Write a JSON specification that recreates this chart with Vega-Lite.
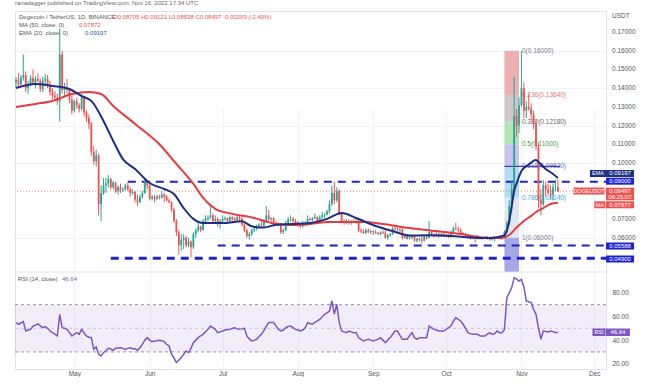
{
"$schema":"https://vega.github.io/schema/vega-lite/v6.json",
"width":591,"height":358,
"padding":{"left":12,"top":0,"right":0,"bottom":0},
"background":"white",
"config":{"font":"Liberation Sans","view":{"stroke":"#e0e3eb"}},
"title":{"text":"ranadagger published on TradingView.com, Nov 16, 2022 17:34 UTC","anchor":"start","fontSize":6,"fontWeight":"normal","color":"#666666","offset":5,"frame":"group"},
"datasets":{
"candles":[
{"d":"2022-04-07","o":0.143,"h":0.146,"l":0.14,"c":0.1445,"r":54.8},
{"d":"2022-04-08","o":0.1445,"h":0.148,"l":0.141,"c":0.142,"r":53.4},
{"d":"2022-04-09","o":0.142,"h":0.147,"l":0.1415,"c":0.1455,"r":54.5},
{"d":"2022-04-10","o":0.1455,"h":0.158,"l":0.144,"c":0.147,"r":55.6},
{"d":"2022-04-11","o":0.147,"h":0.149,"l":0.138,"c":0.14,"r":47.7},
{"d":"2022-04-12","o":0.14,"h":0.144,"l":0.137,"c":0.1425,"r":48.5},
{"d":"2022-04-13","o":0.1425,"h":0.147,"l":0.141,"c":0.1455,"r":49.1},
{"d":"2022-04-14","o":0.1455,"h":0.15,"l":0.142,"c":0.143,"r":51.9},
{"d":"2022-04-15","o":0.143,"h":0.1465,"l":0.14,"c":0.145,"r":52.5},
{"d":"2022-04-16","o":0.145,"h":0.148,"l":0.143,"c":0.144,"r":53.9},
{"d":"2022-04-17","o":0.144,"h":0.145,"l":0.138,"c":0.1395,"r":52},
{"d":"2022-04-18","o":0.1395,"h":0.146,"l":0.138,"c":0.144,"r":50.5},
{"d":"2022-04-19","o":0.144,"h":0.1475,"l":0.142,"c":0.145,"r":51.5},
{"d":"2022-04-20","o":0.145,"h":0.147,"l":0.14,"c":0.1415,"r":50},
{"d":"2022-04-21","o":0.1415,"h":0.144,"l":0.136,"c":0.138,"r":47.7},
{"d":"2022-04-22","o":0.138,"h":0.14,"l":0.134,"c":0.136,"r":46.3},
{"d":"2022-04-23","o":0.136,"h":0.1385,"l":0.134,"c":0.135,"r":45},
{"d":"2022-04-24","o":0.135,"h":0.137,"l":0.131,"c":0.133,"r":43.5},
{"d":"2022-04-25","o":0.133,"h":0.172,"l":0.122,"c":0.158,"r":61.8},
{"d":"2022-04-26","o":0.158,"h":0.16,"l":0.137,"c":0.139,"r":50.5},
{"d":"2022-04-27","o":0.139,"h":0.143,"l":0.136,"c":0.14,"r":50},
{"d":"2022-04-28","o":0.14,"h":0.145,"l":0.137,"c":0.139,"r":49.1},
{"d":"2022-04-29","o":0.139,"h":0.14,"l":0.132,"c":0.134,"r":46.3},
{"d":"2022-04-30","o":0.134,"h":0.136,"l":0.126,"c":0.128,"r":43.5},
{"d":"2022-05-01","o":0.128,"h":0.134,"l":0.127,"c":0.133,"r":45},
{"d":"2022-05-02","o":0.133,"h":0.135,"l":0.129,"c":0.131,"r":46.3},
{"d":"2022-05-03","o":0.131,"h":0.132,"l":0.127,"c":0.129,"r":44.9},
{"d":"2022-05-04","o":0.129,"h":0.137,"l":0.128,"c":0.135,"r":49.1},
{"d":"2022-05-05","o":0.135,"h":0.136,"l":0.125,"c":0.127,"r":46},
{"d":"2022-05-06","o":0.127,"h":0.128,"l":0.122,"c":0.124,"r":43.5},
{"d":"2022-05-07","o":0.124,"h":0.126,"l":0.118,"c":0.121,"r":42.5},
{"d":"2022-05-08","o":0.121,"h":0.122,"l":0.104,"c":0.106,"r":42.1},
{"d":"2022-05-09","o":0.106,"h":0.109,"l":0.099,"c":0.101,"r":32.2},
{"d":"2022-05-10","o":0.101,"h":0.107,"l":0.098,"c":0.104,"r":34.2},
{"d":"2022-05-11","o":0.104,"h":0.105,"l":0.072,"c":0.078,"r":28},
{"d":"2022-05-12","o":0.078,"h":0.088,"l":0.069,"c":0.084,"r":26.6},
{"d":"2022-05-13","o":0.084,"h":0.092,"l":0.083,"c":0.088,"r":29.4},
{"d":"2022-05-14","o":0.088,"h":0.092,"l":0.084,"c":0.089,"r":31},
{"d":"2022-05-15","o":0.089,"h":0.0935,"l":0.087,"c":0.0915,"r":33.1},
{"d":"2022-05-16","o":0.0915,"h":0.092,"l":0.086,"c":0.087,"r":32.5},
{"d":"2022-05-17","o":0.087,"h":0.0905,"l":0.086,"c":0.0895,"r":31.4},
{"d":"2022-05-18","o":0.0895,"h":0.09,"l":0.084,"c":0.085,"r":33.1},
{"d":"2022-05-19","o":0.085,"h":0.088,"l":0.083,"c":0.087,"r":33.4},
{"d":"2022-05-20","o":0.087,"h":0.089,"l":0.084,"c":0.0855,"r":33.6},
{"d":"2022-05-21","o":0.0855,"h":0.087,"l":0.0845,"c":0.086,"r":33},
{"d":"2022-05-22","o":0.086,"h":0.089,"l":0.0855,"c":0.088,"r":32.2},
{"d":"2022-05-23","o":0.088,"h":0.0895,"l":0.085,"c":0.086,"r":33},
{"d":"2022-05-24","o":0.086,"h":0.087,"l":0.082,"c":0.084,"r":33.6},
{"d":"2022-05-25","o":0.084,"h":0.086,"l":0.083,"c":0.0845,"r":32.8},
{"d":"2022-05-26","o":0.0845,"h":0.085,"l":0.079,"c":0.0805,"r":32.8},
{"d":"2022-05-27","o":0.0805,"h":0.083,"l":0.077,"c":0.079,"r":31.4},
{"d":"2022-05-28","o":0.079,"h":0.083,"l":0.0785,"c":0.082,"r":33.5},
{"d":"2022-05-29","o":0.082,"h":0.085,"l":0.081,"c":0.084,"r":36.4},
{"d":"2022-05-30","o":0.084,"h":0.092,"l":0.0835,"c":0.09,"r":40},
{"d":"2022-05-31","o":0.09,"h":0.091,"l":0.086,"c":0.088,"r":42.1},
{"d":"2022-06-01","o":0.088,"h":0.089,"l":0.08,"c":0.081,"r":40},
{"d":"2022-06-02","o":0.081,"h":0.083,"l":0.08,"c":0.082,"r":38.7},
{"d":"2022-06-03","o":0.082,"h":0.083,"l":0.079,"c":0.081,"r":39.3},
{"d":"2022-06-04","o":0.081,"h":0.083,"l":0.08,"c":0.082,"r":39.5},
{"d":"2022-06-05","o":0.082,"h":0.083,"l":0.0805,"c":0.0815,"r":39.8},
{"d":"2022-06-06","o":0.0815,"h":0.085,"l":0.081,"c":0.083,"r":39.5},
{"d":"2022-06-07","o":0.083,"h":0.084,"l":0.079,"c":0.082,"r":38.7},
{"d":"2022-06-08","o":0.082,"h":0.083,"l":0.0795,"c":0.08,"r":36.5},
{"d":"2022-06-09","o":0.08,"h":0.081,"l":0.0785,"c":0.079,"r":35},
{"d":"2022-06-10","o":0.079,"h":0.0795,"l":0.074,"c":0.075,"r":28},
{"d":"2022-06-11","o":0.075,"h":0.076,"l":0.068,"c":0.069,"r":25},
{"d":"2022-06-12","o":0.069,"h":0.07,"l":0.061,"c":0.063,"r":21},
{"d":"2022-06-13","o":0.063,"h":0.064,"l":0.051,"c":0.056,"r":23},
{"d":"2022-06-14","o":0.056,"h":0.062,"l":0.053,"c":0.059,"r":25.2},
{"d":"2022-06-15","o":0.059,"h":0.062,"l":0.054,"c":0.06,"r":28},
{"d":"2022-06-16","o":0.06,"h":0.061,"l":0.055,"c":0.056,"r":30.8},
{"d":"2022-06-17","o":0.056,"h":0.06,"l":0.055,"c":0.058,"r":29.4},
{"d":"2022-06-18","o":0.058,"h":0.0585,"l":0.0495,"c":0.055,"r":33},
{"d":"2022-06-19","o":0.055,"h":0.063,"l":0.054,"c":0.062,"r":37.8},
{"d":"2022-06-20","o":0.062,"h":0.065,"l":0.06,"c":0.064,"r":40},
{"d":"2022-06-21","o":0.064,"h":0.068,"l":0.063,"c":0.066,"r":42.1},
{"d":"2022-06-22","o":0.066,"h":0.0665,"l":0.063,"c":0.064,"r":43.5},
{"d":"2022-06-23","o":0.064,"h":0.07,"l":0.064,"c":0.069,"r":44.9},
{"d":"2022-06-24","o":0.069,"h":0.072,"l":0.068,"c":0.07,"r":47},
{"d":"2022-06-25","o":0.07,"h":0.072,"l":0.069,"c":0.071,"r":49.1},
{"d":"2022-06-26","o":0.071,"h":0.077,"l":0.07,"c":0.072,"r":51.9},
{"d":"2022-06-27","o":0.072,"h":0.073,"l":0.068,"c":0.069,"r":50.5},
{"d":"2022-06-28","o":0.069,"h":0.072,"l":0.068,"c":0.07,"r":49.1},
{"d":"2022-06-29","o":0.07,"h":0.071,"l":0.066,"c":0.068,"r":46.3},
{"d":"2022-06-30","o":0.068,"h":0.07,"l":0.065,"c":0.069,"r":47},
{"d":"2022-07-01","o":0.069,"h":0.072,"l":0.068,"c":0.07,"r":47.7},
{"d":"2022-07-02","o":0.07,"h":0.0715,"l":0.069,"c":0.0705,"r":48.5},
{"d":"2022-07-03","o":0.0705,"h":0.071,"l":0.068,"c":0.069,"r":48.8},
{"d":"2022-07-04","o":0.069,"h":0.072,"l":0.0685,"c":0.071,"r":49.1},
{"d":"2022-07-05","o":0.071,"h":0.0715,"l":0.068,"c":0.07,"r":49.8},
{"d":"2022-07-06","o":0.07,"h":0.071,"l":0.0685,"c":0.0695,"r":50.5},
{"d":"2022-07-07","o":0.0695,"h":0.072,"l":0.069,"c":0.071,"r":49.5},
{"d":"2022-07-08","o":0.071,"h":0.072,"l":0.069,"c":0.07,"r":49.1},
{"d":"2022-07-09","o":0.07,"h":0.071,"l":0.066,"c":0.067,"r":49.5},
{"d":"2022-07-10","o":0.067,"h":0.068,"l":0.063,"c":0.064,"r":50},
{"d":"2022-07-11","o":0.064,"h":0.065,"l":0.06,"c":0.061,"r":43.5},
{"d":"2022-07-12","o":0.061,"h":0.063,"l":0.059,"c":0.062,"r":41},
{"d":"2022-07-13","o":0.062,"h":0.065,"l":0.061,"c":0.064,"r":39.3},
{"d":"2022-07-14","o":0.064,"h":0.066,"l":0.063,"c":0.065,"r":39.8},
{"d":"2022-07-15","o":0.065,"h":0.067,"l":0.064,"c":0.066,"r":40.7},
{"d":"2022-07-16","o":0.066,"h":0.068,"l":0.065,"c":0.067,"r":43},
{"d":"2022-07-17","o":0.067,"h":0.069,"l":0.066,"c":0.0665,"r":44.9},
{"d":"2022-07-18","o":0.0665,"h":0.07,"l":0.066,"c":0.069,"r":48},
{"d":"2022-07-19","o":0.069,"h":0.077,"l":0.068,"c":0.072,"r":51.9},
{"d":"2022-07-20","o":0.072,"h":0.075,"l":0.069,"c":0.07,"r":54.8},
{"d":"2022-07-21","o":0.07,"h":0.071,"l":0.068,"c":0.0705,"r":54.8},
{"d":"2022-07-22","o":0.0705,"h":0.071,"l":0.067,"c":0.068,"r":54.8},
{"d":"2022-07-23","o":0.068,"h":0.069,"l":0.066,"c":0.067,"r":52},
{"d":"2022-07-24","o":0.067,"h":0.068,"l":0.066,"c":0.0675,"r":49.1},
{"d":"2022-07-25","o":0.0675,"h":0.068,"l":0.062,"c":0.063,"r":47.7},
{"d":"2022-07-26","o":0.063,"h":0.065,"l":0.062,"c":0.064,"r":48.5},
{"d":"2022-07-27","o":0.064,"h":0.069,"l":0.0635,"c":0.068,"r":50.5},
{"d":"2022-07-28","o":0.068,"h":0.071,"l":0.067,"c":0.07,"r":51.5},
{"d":"2022-07-29","o":0.07,"h":0.072,"l":0.0685,"c":0.0702,"r":51.9},
{"d":"2022-07-30","o":0.0702,"h":0.071,"l":0.068,"c":0.069,"r":50.5},
{"d":"2022-07-31","o":0.069,"h":0.07,"l":0.067,"c":0.068,"r":49.1},
{"d":"2022-08-01","o":0.068,"h":0.069,"l":0.066,"c":0.067,"r":48.5},
{"d":"2022-08-02","o":0.067,"h":0.068,"l":0.065,"c":0.066,"r":47.7},
{"d":"2022-08-03","o":0.066,"h":0.069,"l":0.0655,"c":0.068,"r":48.5},
{"d":"2022-08-04","o":0.068,"h":0.069,"l":0.066,"c":0.067,"r":50.5},
{"d":"2022-08-05","o":0.067,"h":0.072,"l":0.0665,"c":0.07,"r":54.8},
{"d":"2022-08-06","o":0.07,"h":0.071,"l":0.069,"c":0.0695,"r":54},
{"d":"2022-08-07","o":0.0695,"h":0.071,"l":0.069,"c":0.0705,"r":53.4},
{"d":"2022-08-08","o":0.0705,"h":0.073,"l":0.07,"c":0.071,"r":55},
{"d":"2022-08-09","o":0.071,"h":0.0715,"l":0.068,"c":0.069,"r":56.2},
{"d":"2022-08-10","o":0.069,"h":0.072,"l":0.068,"c":0.071,"r":57.6},
{"d":"2022-08-11","o":0.071,"h":0.074,"l":0.07,"c":0.072,"r":59.5},
{"d":"2022-08-12","o":0.072,"h":0.073,"l":0.0705,"c":0.0725,"r":61.8},
{"d":"2022-08-13","o":0.0725,"h":0.075,"l":0.072,"c":0.074,"r":63},
{"d":"2022-08-14","o":0.074,"h":0.08,"l":0.073,"c":0.078,"r":64.6},
{"d":"2022-08-15","o":0.078,"h":0.088,"l":0.077,"c":0.084,"r":73.1},
{"d":"2022-08-16","o":0.084,"h":0.09,"l":0.078,"c":0.08,"r":62},
{"d":"2022-08-17","o":0.08,"h":0.087,"l":0.079,"c":0.085,"r":70.3},
{"d":"2022-08-18","o":0.085,"h":0.086,"l":0.072,"c":0.073,"r":55},
{"d":"2022-08-19","o":0.073,"h":0.0735,"l":0.068,"c":0.069,"r":47.7},
{"d":"2022-08-20","o":0.069,"h":0.07,"l":0.067,"c":0.0685,"r":47},
{"d":"2022-08-21","o":0.0685,"h":0.07,"l":0.0675,"c":0.069,"r":46.3},
{"d":"2022-08-22","o":0.069,"h":0.07,"l":0.067,"c":0.068,"r":47.7},
{"d":"2022-08-23","o":0.068,"h":0.0695,"l":0.067,"c":0.069,"r":47},
{"d":"2022-08-24","o":0.069,"h":0.07,"l":0.068,"c":0.0685,"r":46.3},
{"d":"2022-08-25","o":0.0685,"h":0.07,"l":0.0675,"c":0.069,"r":46.3},
{"d":"2022-08-26","o":0.069,"h":0.0695,"l":0.063,"c":0.064,"r":42},
{"d":"2022-08-27","o":0.064,"h":0.065,"l":0.0625,"c":0.0635,"r":40.7},
{"d":"2022-08-28","o":0.0635,"h":0.0645,"l":0.062,"c":0.0625,"r":39.3},
{"d":"2022-08-29","o":0.0625,"h":0.065,"l":0.062,"c":0.064,"r":40},
{"d":"2022-08-30","o":0.064,"h":0.065,"l":0.0625,"c":0.063,"r":40.7},
{"d":"2022-08-31","o":0.063,"h":0.0645,"l":0.062,"c":0.0635,"r":40},
{"d":"2022-09-01","o":0.0635,"h":0.064,"l":0.0615,"c":0.063,"r":39.3},
{"d":"2022-09-02","o":0.063,"h":0.064,"l":0.062,"c":0.0625,"r":40},
{"d":"2022-09-03","o":0.0625,"h":0.063,"l":0.0615,"c":0.062,"r":40.7},
{"d":"2022-09-04","o":0.062,"h":0.0635,"l":0.0615,"c":0.063,"r":42.1},
{"d":"2022-09-05","o":0.063,"h":0.064,"l":0.062,"c":0.0625,"r":40},
{"d":"2022-09-06","o":0.0625,"h":0.064,"l":0.0595,"c":0.06,"r":37.8},
{"d":"2022-09-07","o":0.06,"h":0.062,"l":0.059,"c":0.0615,"r":40},
{"d":"2022-09-08","o":0.0615,"h":0.0625,"l":0.0605,"c":0.062,"r":42.1},
{"d":"2022-09-09","o":0.062,"h":0.066,"l":0.0615,"c":0.065,"r":45},
{"d":"2022-09-10","o":0.065,"h":0.066,"l":0.064,"c":0.0645,"r":47.7},
{"d":"2022-09-11","o":0.0645,"h":0.0655,"l":0.0635,"c":0.064,"r":47.7},
{"d":"2022-09-12","o":0.064,"h":0.0655,"l":0.063,"c":0.0645,"r":44},
{"d":"2022-09-13","o":0.0645,"h":0.065,"l":0.059,"c":0.06,"r":40.7},
{"d":"2022-09-14","o":0.06,"h":0.062,"l":0.0595,"c":0.061,"r":40.7},
{"d":"2022-09-15","o":0.061,"h":0.0615,"l":0.059,"c":0.0595,"r":40.7},
{"d":"2022-09-16","o":0.0595,"h":0.061,"l":0.059,"c":0.06,"r":44},
{"d":"2022-09-17","o":0.06,"h":0.0615,"l":0.0595,"c":0.061,"r":46.3},
{"d":"2022-09-18","o":0.061,"h":0.0612,"l":0.058,"c":0.0585,"r":42},
{"d":"2022-09-19","o":0.0585,"h":0.06,"l":0.0575,"c":0.0595,"r":40.7},
{"d":"2022-09-20","o":0.0595,"h":0.06,"l":0.058,"c":0.059,"r":42.1},
{"d":"2022-09-21","o":0.059,"h":0.061,"l":0.057,"c":0.0585,"r":42.1},
{"d":"2022-09-22","o":0.0585,"h":0.061,"l":0.058,"c":0.0605,"r":42.1},
{"d":"2022-09-23","o":0.0605,"h":0.0615,"l":0.059,"c":0.06,"r":42.1},
{"d":"2022-09-24","o":0.06,"h":0.069,"l":0.0598,"c":0.063,"r":51.9},
{"d":"2022-09-25","o":0.063,"h":0.064,"l":0.061,"c":0.0615,"r":50.5},
{"d":"2022-09-26","o":0.0615,"h":0.0625,"l":0.06,"c":0.061,"r":49.1},
{"d":"2022-09-27","o":0.061,"h":0.064,"l":0.0605,"c":0.062,"r":48.5},
{"d":"2022-09-28","o":0.062,"h":0.063,"l":0.06,"c":0.0615,"r":47.7},
{"d":"2022-09-29","o":0.0615,"h":0.0625,"l":0.0605,"c":0.062,"r":47.7},
{"d":"2022-09-30","o":0.062,"h":0.063,"l":0.0605,"c":0.0615,"r":47.7},
{"d":"2022-10-01","o":0.0615,"h":0.0625,"l":0.0605,"c":0.0612,"r":49.1},
{"d":"2022-10-02","o":0.0612,"h":0.062,"l":0.06,"c":0.0605,"r":50.5},
{"d":"2022-10-03","o":0.0605,"h":0.064,"l":0.06,"c":0.063,"r":51.9},
{"d":"2022-10-04","o":0.063,"h":0.066,"l":0.0625,"c":0.065,"r":56},
{"d":"2022-10-05","o":0.065,"h":0.068,"l":0.064,"c":0.0645,"r":59},
{"d":"2022-10-06","o":0.0645,"h":0.066,"l":0.063,"c":0.064,"r":57.5},
{"d":"2022-10-07","o":0.064,"h":0.065,"l":0.062,"c":0.0625,"r":56.2},
{"d":"2022-10-08","o":0.0625,"h":0.063,"l":0.0615,"c":0.062,"r":53.4},
{"d":"2022-10-09","o":0.062,"h":0.0625,"l":0.061,"c":0.0615,"r":50},
{"d":"2022-10-10","o":0.0615,"h":0.062,"l":0.0595,"c":0.06,"r":46.3},
{"d":"2022-10-11","o":0.06,"h":0.061,"l":0.059,"c":0.0598,"r":45.5},
{"d":"2022-10-12","o":0.0598,"h":0.061,"l":0.0592,"c":0.0602,"r":44.9},
{"d":"2022-10-13","o":0.0602,"h":0.061,"l":0.0575,"c":0.0595,"r":44.9},
{"d":"2022-10-14","o":0.0595,"h":0.0615,"l":0.059,"c":0.0598,"r":44.9},
{"d":"2022-10-15","o":0.0598,"h":0.0605,"l":0.059,"c":0.0595,"r":43.5},
{"d":"2022-10-16","o":0.0595,"h":0.0605,"l":0.059,"c":0.06,"r":43.5},
{"d":"2022-10-17","o":0.06,"h":0.061,"l":0.0595,"c":0.0603,"r":43.5},
{"d":"2022-10-18","o":0.0603,"h":0.061,"l":0.059,"c":0.0595,"r":45},
{"d":"2022-10-19","o":0.0595,"h":0.06,"l":0.0585,"c":0.059,"r":46.3},
{"d":"2022-10-20","o":0.059,"h":0.06,"l":0.0585,"c":0.0595,"r":44.9},
{"d":"2022-10-21","o":0.0595,"h":0.0605,"l":0.058,"c":0.06,"r":45.5},
{"d":"2022-10-22","o":0.06,"h":0.0605,"l":0.0595,"c":0.0601,"r":47.7},
{"d":"2022-10-23","o":0.0601,"h":0.061,"l":0.0595,"c":0.0605,"r":46.3},
{"d":"2022-10-24","o":0.0605,"h":0.061,"l":0.059,"c":0.06,"r":46.3},
{"d":"2022-10-25","o":0.06,"h":0.064,"l":0.0598,"c":0.063,"r":49.1},
{"d":"2022-10-26","o":0.063,"h":0.069,"l":0.0625,"c":0.068,"r":75.9},
{"d":"2022-10-27","o":0.068,"h":0.08,"l":0.067,"c":0.077,"r":80},
{"d":"2022-10-28","o":0.077,"h":0.09,"l":0.074,"c":0.086,"r":84.4},
{"d":"2022-10-29","o":0.086,"h":0.146,"l":0.085,"c":0.125,"r":92.8},
{"d":"2022-10-30","o":0.125,"h":0.129,"l":0.114,"c":0.12,"r":91.5},
{"d":"2022-10-31","o":0.12,"h":0.135,"l":0.116,"c":0.131,"r":90},
{"d":"2022-11-01","o":0.131,"h":0.16,"l":0.13,"c":0.14,"r":91.4},
{"d":"2022-11-02","o":0.14,"h":0.143,"l":0.124,"c":0.128,"r":85},
{"d":"2022-11-03","o":0.128,"h":0.133,"l":0.124,"c":0.13,"r":73.1},
{"d":"2022-11-04","o":0.13,"h":0.137,"l":0.128,"c":0.129,"r":72.5},
{"d":"2022-11-05","o":0.129,"h":0.132,"l":0.123,"c":0.126,"r":71.7},
{"d":"2022-11-06","o":0.126,"h":0.128,"l":0.118,"c":0.121,"r":66},
{"d":"2022-11-07","o":0.121,"h":0.123,"l":0.107,"c":0.109,"r":61.8},
{"d":"2022-11-08","o":0.109,"h":0.111,"l":0.076,"c":0.08,"r":50.5},
{"d":"2022-11-09","o":0.08,"h":0.086,"l":0.072,"c":0.078,"r":40.7},
{"d":"2022-11-10","o":0.078,"h":0.091,"l":0.077,"c":0.088,"r":47.7},
{"d":"2022-11-11","o":0.088,"h":0.09,"l":0.082,"c":0.086,"r":47.2},
{"d":"2022-11-12","o":0.086,"h":0.089,"l":0.083,"c":0.084,"r":46.9},
{"d":"2022-11-13","o":0.084,"h":0.088,"l":0.081,"c":0.083,"r":47.7},
{"d":"2022-11-14","o":0.083,"h":0.089,"l":0.08,"c":0.087,"r":47.2},
{"d":"2022-11-15","o":0.087,"h":0.091,"l":0.085,"c":0.0871,"r":46.3},
{"d":"2022-11-16","o":0.08705,"h":0.09121,"l":0.0844,"c":0.08497,"r":46.64}
],
"ema":[
{"d":"2022-04-07","v":0.1401},{"d":"2022-04-15","v":0.1422},{"d":"2022-04-22","v":0.1412},{"d":"2022-04-29","v":0.1396},{"d":"2022-05-04","v":0.1358},{"d":"2022-05-08","v":0.1332},{"d":"2022-05-13","v":0.1225},{"d":"2022-05-17","v":0.1118},{"d":"2022-05-21","v":0.1021},{"d":"2022-05-26","v":0.0968},{"d":"2022-06-01","v":0.0893},{"d":"2022-06-07","v":0.0861},{"d":"2022-06-11","v":0.0834},{"d":"2022-06-15","v":0.0759},{"d":"2022-06-19","v":0.0701},{"d":"2022-06-23","v":0.0679},{"d":"2022-07-01","v":0.0679},{"d":"2022-07-09","v":0.0688},{"d":"2022-07-13","v":0.0662},{"d":"2022-07-18","v":0.0655},{"d":"2022-07-23","v":0.067},{"d":"2022-07-30","v":0.0674},{"d":"2022-08-06","v":0.0679},{"d":"2022-08-13","v":0.0701},{"d":"2022-08-19","v":0.0733},{"d":"2022-08-25","v":0.0706},{"d":"2022-09-02","v":0.0663},{"d":"2022-09-09","v":0.0636},{"d":"2022-09-16","v":0.0612},{"d":"2022-09-23","v":0.0613},{"d":"2022-10-03","v":0.061},{"d":"2022-10-11","v":0.0602},{"d":"2022-10-19","v":0.0599},{"d":"2022-10-25","v":0.0612},{"d":"2022-10-26","v":0.064},{"d":"2022-10-27","v":0.069},{"d":"2022-10-28","v":0.077},{"d":"2022-10-29","v":0.085},{"d":"2022-10-30","v":0.089},{"d":"2022-11-01","v":0.0957},{"d":"2022-11-04","v":0.0992},{"d":"2022-11-07","v":0.1016},{"d":"2022-11-08","v":0.1005},{"d":"2022-11-11","v":0.0968},{"d":"2022-11-14","v":0.0941},{"d":"2022-11-16","v":0.09197}
],
"ma":[
{"d":"2022-04-07","v":0.1299},{"d":"2022-04-15","v":0.1316},{"d":"2022-04-22","v":0.1332},{"d":"2022-04-30","v":0.1369},{"d":"2022-05-07","v":0.138},{"d":"2022-05-12","v":0.1369},{"d":"2022-05-17","v":0.1305},{"d":"2022-05-26","v":0.1209},{"d":"2022-06-05","v":0.11},{"d":"2022-06-12","v":0.0995},{"d":"2022-06-19","v":0.0888},{"d":"2022-06-23","v":0.0813},{"d":"2022-06-28","v":0.0755},{"d":"2022-07-05","v":0.0728},{"d":"2022-07-14","v":0.0706},{"d":"2022-07-18","v":0.069},{"d":"2022-07-23","v":0.0674},{"d":"2022-07-30","v":0.0668},{"d":"2022-08-06","v":0.0674},{"d":"2022-08-14","v":0.0684},{"d":"2022-08-20","v":0.0684},{"d":"2022-08-28","v":0.0684},{"d":"2022-09-05","v":0.0674},{"d":"2022-09-16","v":0.0652},{"d":"2022-09-27","v":0.0636},{"d":"2022-10-07","v":0.062},{"d":"2022-10-16","v":0.0602},{"d":"2022-10-24","v":0.0599},{"d":"2022-10-27","v":0.0615},{"d":"2022-10-30","v":0.0655},{"d":"2022-11-02","v":0.069},{"d":"2022-11-05","v":0.0717},{"d":"2022-11-07","v":0.0738},{"d":"2022-11-10","v":0.0759},{"d":"2022-11-13","v":0.0781},{"d":"2022-11-16","v":0.07877}
],
"levels":[{"from":"2022-05-23","v":0.09},{"from":"2022-06-29","v":0.05588},{"from":"2022-05-16","v":0.049}],
"fibbox":[{"b":"b0","hi":0.16,"lo":0.1364},{"b":"b1","hi":0.1364,"lo":0.1218},{"b":"b2","hi":0.1218,"lo":0.11},{"b":"b3","hi":0.11,"lo":0.0982},{"b":"b4","hi":0.0982,"lo":0.0814},{"b":"b5","hi":0.0814,"lo":0.06},{"b":"b6","hi":0.06,"lo":0.04171}],
"fib":[{"lvl":"0","v":0.16,"t":"0(0.16000)"},{"lvl":"0.236","v":0.1364,"t":"0.236(0.13640)"},{"lvl":"0.382","v":0.1218,"t":"0.382(0.12180)"},{"lvl":"0.5","v":0.11,"t":"0.5(0.11000)"},{"lvl":"0.618","v":0.0982,"t":"0.618(0.09820)"},{"lvl":"0.786","v":0.0814,"t":"0.786(0.08140)"},{"lvl":"1","v":0.06,"t":"1(0.06000)"}],
"tags":[{"k":"ema","pos":0.09439,"t":"0.09197"},{"k":"lvl","pos":0.09027,"t":"0.09000"},{"k":"ma","pos":0.07765,"t":"0.07877"},{"k":"lvl","pos":0.05561,"t":"0.05588"},{"k":"lvl","pos":0.04866,"t":"0.04900"}],
"pticks":[{"v":0.06},{"v":0.07},{"v":0.1},{"v":0.11},{"v":0.12},{"v":0.13},{"v":0.14},{"v":0.15},{"v":0.16},{"v":0.17}]
},
"layer":[
{
"resolve":{"scale":{"color":"independent"}},
"layer":[
{"data":{"name":"candles"},"mark":{"type":"rule","strokeWidth":1,"opacity":0},
 "encoding":{"x":{"field":"d","type":"temporal","scale":{"type":"utc","padding":0,"nice":false,"domain":[{"year":2022,"month":4,"date":6,"hours":14,"minutes":7,"utc":true},{"year":2022,"month":12,"date":5,"hours":19,"minutes":12,"utc":true}]},
   "axis":{"title":null,"format":"%b","values":[{"year":2022,"month":5,"date":1,"utc":true},{"year":2022,"month":6,"date":1,"utc":true},{"year":2022,"month":7,"date":1,"utc":true},{"year":2022,"month":8,"date":1,"utc":true},{"year":2022,"month":9,"date":1,"utc":true},{"year":2022,"month":10,"date":1,"utc":true},{"year":2022,"month":11,"date":1,"utc":true},{"year":2022,"month":12,"date":1,"utc":true}],"ticks":false,"labelOverlap":false,"labelFontSize":6.5,"labelColor":"#555555","labelPadding":1,"domainColor":"#e0e3eb","grid":true,"gridColor":"#f0f3fa"}},
 "y":{"field":"l","type":"quantitative","scale":{"domain":[0.04171,0.18128],"range":[261,0],"padding":0,"zero":false,"nice":false},
   "axis":{"orient":"right","title":null,"values":[0.06,0.07,0.1,0.11,0.12,0.13,0.14,0.15,0.16,0.17],"labels":false,"ticks":false,"domainColor":"#e0e3eb","grid":true,"gridColor":"#f0f3fa"}},
 "y2":{"field":"h"}}},
{"data":{"name":"pticks"},"mark":{"type":"text","align":"left","baseline":"middle","fontSize":6.5,"color":"#555555"},
 "encoding":{"x":{"datum":{"year":2022,"month":12,"date":8,"hours":7,"utc":true},"type":"temporal"},"y":{"field":"v","type":"quantitative"},"text":{"field":"v","type":"quantitative","format":".5f"}}},
{"data":{"values":[{}]},"mark":{"type":"text","align":"left","baseline":"middle","fontSize":6.5,"color":"#555555"},
 "encoding":{"x":{"datum":{"year":2022,"month":12,"date":8,"hours":7,"utc":true},"type":"temporal"},"y":{"datum":0.1786,"type":"quantitative"},"text":{"value":"USDT"}}},
{"data":{"name":"fibbox"},"mark":{"type":"rect"},
 "encoding":{"x":{"datum":{"year":2022,"month":10,"date":25,"utc":true},"type":"temporal"},
 "x2":{"datum":{"year":2022,"month":10,"date":31,"utc":true}},
 "y":{"field":"hi","type":"quantitative"},
 "y2":{"field":"lo"},
 "color":{"field":"b","type":"nominal","scale":{"domain":["b0","b1","b2","b3","b4","b5","b6"],"range":["#eeb0ae","#cfc8c8","#b3e2b3","#c9c4ea","#b5dcef","#dfe6ee","#a4a8e8"]},"legend":null}}},
{"data":{"name":"fib"},"mark":{"type":"text","align":"left","baseline":"middle","fontSize":6.5},
 "encoding":{"x":{"datum":{"year":2022,"month":11,"date":1,"hours":5,"utc":true},"type":"temporal"},
 "y":{"field":"v","type":"quantitative"},
 "text":{"field":"t"},
 "color":{"field":"lvl","type":"nominal","scale":{"domain":["0","0.236","0.382","0.5","0.618","0.786","1"],"range":["#787b86","#e57373","#666666","#43a047","#5c6bc0","#42a5f5","#787b86"]},"legend":null}}},
{"data":{"values":[{}]},"mark":{"type":"rule","color":"#f0856b","strokeDash":[1,2],"strokeWidth":1},
 "encoding":{"y":{"datum":0.08497,"type":"quantitative"}}},
{"data":{"name":"levels"},"mark":{"type":"rule","color":"#1f23c9","strokeDash":[8,6]},
 "encoding":{"x":{"field":"from","type":"temporal"},
 "x2":{"datum":{"year":2022,"month":12,"date":5,"hours":19,"minutes":12,"utc":true}},
 "y":{"field":"v","type":"quantitative"},
 "strokeWidth":{"condition":{"test":"datum.v < 0.05","value":3},"value":2}}},
{"data":{"values":[{}]},"mark":{"type":"rule","color":"#3b3fb8","strokeWidth":1.3},
 "encoding":{"x":{"datum":{"year":2022,"month":10,"date":25,"utc":true},"type":"temporal"},
 "x2":{"datum":{"year":2022,"month":11,"date":17,"utc":true}},
 "y":{"datum":0.0982,"type":"quantitative"}}},
{"data":{"name":"candles"},"mark":{"type":"rule","strokeWidth":1},
 "encoding":{"x":{"field":"d","type":"temporal"},
 "y":{"field":"l","type":"quantitative"},
 "y2":{"field":"h"},
 "color":{"condition":{"test":"datum.c >= datum.o","value":"#26a69a"},"value":"#ef5350"}}},
{"data":{"name":"candles"},"mark":{"type":"bar","width":1.8},
 "encoding":{"x":{"field":"d","type":"temporal"},
 "y":{"field":"o","type":"quantitative"},
 "y2":{"field":"c"},
 "color":{"condition":{"test":"datum.c >= datum.o","value":"#26a69a"},"value":"#ef5350"}}},
{"data":{"name":"ma"},"mark":{"type":"line","color":"#e9393f","strokeWidth":2,"interpolate":"monotone"},
 "encoding":{"x":{"field":"d","type":"temporal"},"y":{"field":"v","type":"quantitative"}}},
{"data":{"name":"ema"},"mark":{"type":"line","color":"#1e2d84","strokeWidth":2,"interpolate":"monotone"},
 "encoding":{"x":{"field":"d","type":"temporal"},"y":{"field":"v","type":"quantitative"}}},
{"data":{"values":[{}]},"mark":{"type":"text","align":"left","baseline":"middle","fontSize":6,"color":"#555555"},
 "encoding":{"x":{"datum":{"year":2022,"month":4,"date":8,"hours":6,"utc":true},"type":"temporal"},"y":{"datum":0.1782,"type":"quantitative"},"text":{"value":"Dogecoin / TetherUS, 1D, BINANCE"}}},
{"data":{"values":[{}]},"mark":{"type":"text","align":"left","baseline":"middle","fontSize":6,"color":"#ef5350"},
 "encoding":{"x":{"datum":{"year":2022,"month":5,"date":16,"hours":22,"utc":true},"type":"temporal"},"y":{"datum":0.1782,"type":"quantitative"},"text":{"value":"O0.08705  H0.09121  L0.08538  C0.08497  -0.00209 (-2.40%)"}}},
{"data":{"values":[{}]},"mark":{"type":"text","align":"left","baseline":"middle","fontSize":6,"color":"#555555"},
 "encoding":{"x":{"datum":{"year":2022,"month":4,"date":8,"hours":6,"utc":true},"type":"temporal"},"y":{"datum":0.1738,"type":"quantitative"},"text":{"value":"MA (50, close, 0)"}}},
{"data":{"values":[{}]},"mark":{"type":"text","align":"left","baseline":"middle","fontSize":6,"color":"#ef5350"},
 "encoding":{"x":{"datum":{"year":2022,"month":5,"date":2,"hours":22,"utc":true},"type":"temporal"},"y":{"datum":0.1738,"type":"quantitative"},"text":{"value":"0.07872"}}},
{"data":{"values":[{}]},"mark":{"type":"text","align":"left","baseline":"middle","fontSize":6,"color":"#555555"},
 "encoding":{"x":{"datum":{"year":2022,"month":4,"date":8,"hours":6,"utc":true},"type":"temporal"},"y":{"datum":0.1695,"type":"quantitative"},"text":{"value":"EMA (20, close, 0)"}}},
{"data":{"values":[{}]},"mark":{"type":"text","align":"left","baseline":"middle","fontSize":6,"color":"#2f4fb5"},
 "encoding":{"x":{"datum":{"year":2022,"month":5,"date":5,"hours":10,"utc":true},"type":"temporal"},"y":{"datum":0.1695,"type":"quantitative"},"text":{"value":"0.09197"}}},
{"data":{"name":"tags"},"mark":{"type":"tick","orient":"horizontal","size":28,"thickness":7,"opacity":1},
 "encoding":{"x":{"datum":{"year":2022,"month":12,"date":11,"hours":14,"utc":true},"type":"temporal"},"y":{"field":"pos","type":"quantitative"},
 "color":{"field":"k","type":"nominal","scale":{"domain":["ema","lvl","ma"],"range":["#1f3181","#1c22d4","#ef5350"]},"legend":null}}},
{"data":{"values":[{}]},"mark":{"type":"tick","orient":"horizontal","size":28,"thickness":12.6,"opacity":1,"color":"#ef5350"},
 "encoding":{"x":{"datum":{"year":2022,"month":12,"date":11,"hours":14,"utc":true},"type":"temporal"},"y":{"datum":0.08342,"type":"quantitative"}}},
{"data":{"values":[{}]},"mark":{"type":"tick","orient":"horizontal","size":16,"thickness":7,"opacity":1,"color":"#1f3181"},
 "encoding":{"x":{"datum":{"year":2022,"month":12,"date":2,"hours":12,"utc":true},"type":"temporal"},"y":{"datum":0.09439,"type":"quantitative"}}},
{"data":{"values":[{}]},"mark":{"type":"tick","orient":"horizontal","size":31,"thickness":7,"opacity":1,"color":"#ef5350"},
 "encoding":{"x":{"datum":{"year":2022,"month":11,"date":28,"hours":19,"utc":true},"type":"temporal"},"y":{"datum":0.085,"type":"quantitative"}}},
{"data":{"values":[{}]},"mark":{"type":"tick","orient":"horizontal","size":11,"thickness":7,"opacity":1,"color":"#ef5350"},
 "encoding":{"x":{"datum":{"year":2022,"month":12,"date":3,"hours":7,"utc":true},"type":"temporal"},"y":{"datum":0.07765,"type":"quantitative"}}},
{"data":{"name":"tags"},"mark":{"type":"text","color":"white","fontSize":6,"align":"center","baseline":"middle"},
 "encoding":{"x":{"datum":{"year":2022,"month":12,"date":11,"hours":14,"utc":true},"type":"temporal"},"y":{"field":"pos","type":"quantitative"},"text":{"field":"t"}}},
{"data":{"values":[{}]},"mark":{"type":"text","color":"white","fontSize":6,"align":"center","baseline":"middle"},
 "encoding":{"x":{"datum":{"year":2022,"month":12,"date":11,"hours":14,"utc":true},"type":"temporal"},"y":{"datum":0.085,"type":"quantitative"},"text":{"value":"0.08497"}}},
{"data":{"values":[{}]},"mark":{"type":"text","color":"white","fontSize":6,"align":"center","baseline":"middle"},
 "encoding":{"x":{"datum":{"year":2022,"month":12,"date":11,"hours":14,"utc":true},"type":"temporal"},"y":{"datum":0.0818,"type":"quantitative"},"text":{"value":"06:25:07"}}},
{"data":{"values":[{}]},"mark":{"type":"text","color":"white","fontSize":5.5,"align":"center","baseline":"middle"},
 "encoding":{"x":{"datum":{"year":2022,"month":12,"date":2,"hours":12,"utc":true},"type":"temporal"},"y":{"datum":0.09439,"type":"quantitative"},"text":{"value":"EMA"}}},
{"data":{"values":[{}]},"mark":{"type":"text","color":"white","fontSize":5.5,"align":"center","baseline":"middle"},
 "encoding":{"x":{"datum":{"year":2022,"month":11,"date":28,"hours":19,"utc":true},"type":"temporal"},"y":{"datum":0.085,"type":"quantitative"},"text":{"value":"DOGEUSDT"}}},
{"data":{"values":[{}]},"mark":{"type":"text","color":"white","fontSize":5.5,"align":"center","baseline":"middle"},
 "encoding":{"x":{"datum":{"year":2022,"month":12,"date":3,"hours":7,"utc":true},"type":"temporal"},"y":{"datum":0.07765,"type":"quantitative"},"text":{"value":"MA"}}}
]
},
{
"layer":[
{"data":{"name":"candles"},"mark":{"type":"line","color":"#7e57c2","strokeWidth":1.5,"opacity":0},
 "encoding":{"x":{"field":"d","type":"temporal"},
 "y":{"field":"r","type":"quantitative","scale":{"domain":[15.58,97.6],"range":[358,261],"padding":0,"zero":false,"nice":false},
   "axis":{"orient":"right","title":null,"values":[20,40,60,80],"format":".2f","labelOverlap":false,"ticks":false,"labelFontSize":6.5,"labelColor":"#555555","labelPadding":6,"domainColor":"#e0e3eb","grid":false}}}},
{"data":{"values":[{}]},"mark":{"type":"rect","color":"#7e57c2","opacity":0.1},
 "encoding":{"x":{"datum":{"year":2022,"month":4,"date":6,"hours":14,"minutes":7,"utc":true},"type":"temporal"},
 "x2":{"datum":{"year":2022,"month":12,"date":5,"hours":19,"minutes":12,"utc":true}},
 "y":{"datum":70,"type":"quantitative"},
 "y2":{"datum":30}}},
{"data":{"values":[{}]},"mark":{"type":"rule","color":"#e0e3eb","strokeWidth":1},
 "encoding":{"y":{"datum":97.6,"type":"quantitative"}}},
{"data":{"values":[{"v":70},{"v":30}]},"mark":{"type":"rule","color":"#9598a1","strokeDash":[3,3],"strokeWidth":1},
 "encoding":{"y":{"field":"v","type":"quantitative"}}},
{"data":{"values":[{"v":50}]},"mark":{"type":"rule","color":"#c3c5cc","strokeDash":[3,3],"strokeWidth":1},
 "encoding":{"y":{"field":"v","type":"quantitative"}}},
{"data":{"name":"candles"},"mark":{"type":"line","color":"#7e57c2","strokeWidth":1.5},
 "encoding":{"x":{"field":"d","type":"temporal"},"y":{"field":"r","type":"quantitative"}}},
{"data":{"values":[{}]},"mark":{"type":"text","align":"left","baseline":"middle","fontSize":6,"color":"#555555"},
 "encoding":{"x":{"datum":{"year":2022,"month":4,"date":7,"hours":18,"utc":true},"type":"temporal"},"y":{"datum":91.4,"type":"quantitative"},"text":{"value":"RSI (14, close)"}}},
{"data":{"values":[{}]},"mark":{"type":"text","align":"left","baseline":"middle","fontSize":6,"color":"#7e57c2"},
 "encoding":{"x":{"datum":{"year":2022,"month":4,"date":25,"hours":22,"utc":true},"type":"temporal"},"y":{"datum":91.4,"type":"quantitative"},"text":{"value":"46.64"}}},
{"data":{"values":[{}]},"mark":{"type":"tick","orient":"horizontal","size":13,"thickness":7.5,"opacity":1,"color":"#7e57c2"},
 "encoding":{"x":{"datum":{"year":2022,"month":12,"date":2,"hours":22,"utc":true},"type":"temporal"},"y":{"datum":46.64,"type":"quantitative"}}},
{"data":{"values":[{}]},"mark":{"type":"tick","orient":"horizontal","size":24,"thickness":7.5,"opacity":1,"color":"#7e57c2"},
 "encoding":{"x":{"datum":{"year":2022,"month":12,"date":10,"hours":17,"utc":true},"type":"temporal"},"y":{"datum":46.64,"type":"quantitative"}}},
{"data":{"values":[{}]},"mark":{"type":"text","color":"white","fontSize":5.5,"align":"center","baseline":"middle"},
 "encoding":{"x":{"datum":{"year":2022,"month":12,"date":2,"hours":22,"utc":true},"type":"temporal"},"y":{"datum":46.64,"type":"quantitative"},"text":{"value":"RSI"}}},
{"data":{"values":[{}]},"mark":{"type":"text","color":"white","fontSize":6,"align":"center","baseline":"middle"},
 "encoding":{"x":{"datum":{"year":2022,"month":12,"date":10,"hours":17,"utc":true},"type":"temporal"},"y":{"datum":46.64,"type":"quantitative"},"text":{"value":"46.64"}}}
]
}
],
"resolve":{"scale":{"y":"independent"}}
}
